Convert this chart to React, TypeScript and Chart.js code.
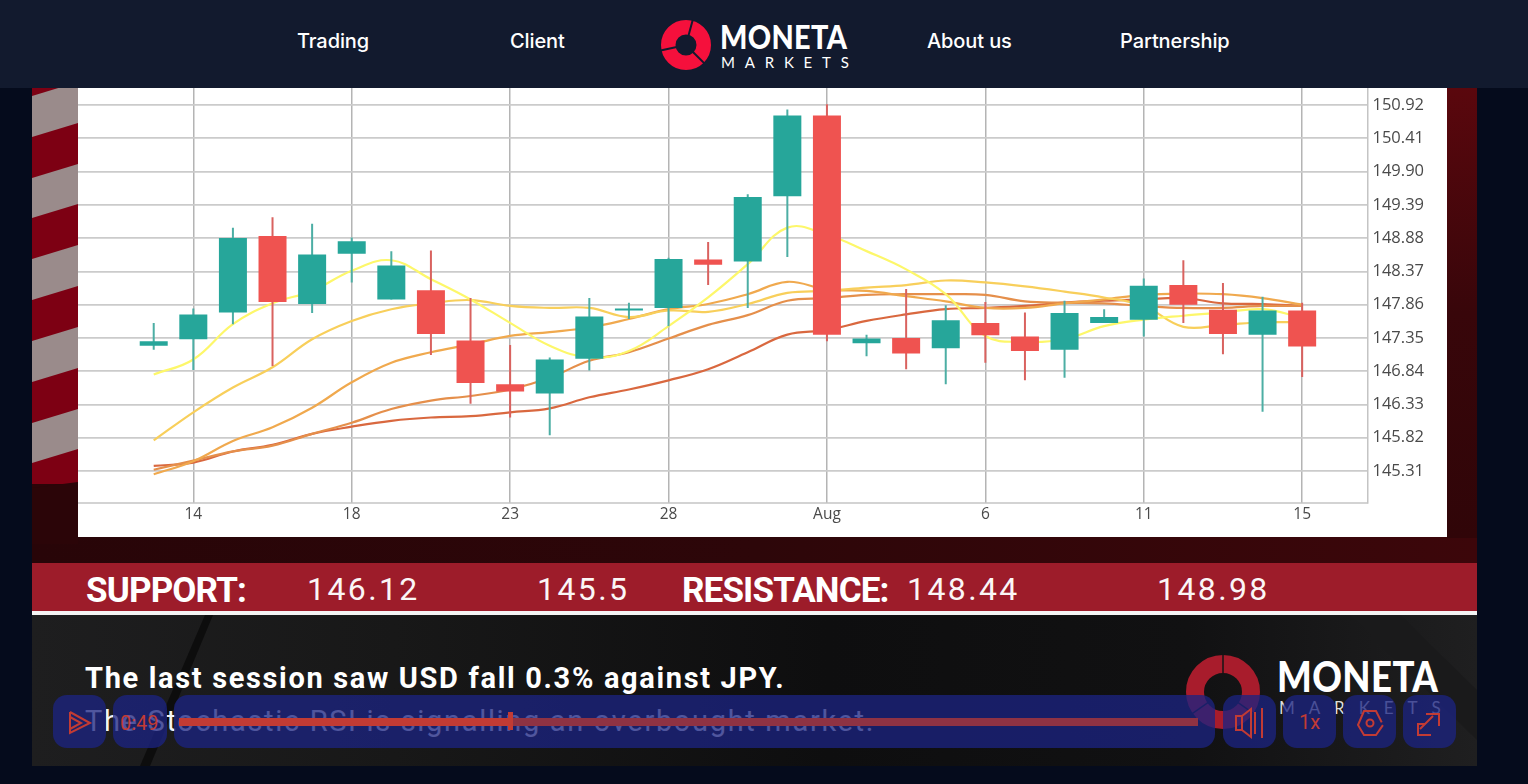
import React, { useEffect, useRef } from "react";
import { Chart, registerables } from "chart.js";

Chart.register(...registerables);

const xTickIndexes = [1, 5, 9, 13, 17, 21, 25, 29];
const xTickLabels = ["14", "18", "23", "28", "Aug", "6", "11", "15"];
const yTickValues = [145.31, 145.82, 146.33, 146.84, 147.35, 147.86, 148.37, 148.88, 149.39, 149.9, 150.41, 150.92];

const bodyTop = [147.3, 147.71, 148.88, 148.91, 148.63, 148.83, 148.46, 148.08, 147.31, 146.64, 147.02, 147.68, 147.8, 148.56, 148.55, 149.51, 150.76, 150.76, 147.34, 147.35, 147.62, 147.58, 147.37, 147.73, 147.67, 148.15, 148.16, 147.78, 147.77, 147.77];
const bodyBottom = [147.23, 147.33, 147.74, 147.9, 147.87, 148.64, 147.94, 147.41, 146.66, 146.53, 146.5, 147.03, 147.77, 147.81, 148.47, 148.52, 149.52, 147.4, 147.27, 147.11, 147.19, 147.39, 147.15, 147.17, 147.58, 147.63, 147.86, 147.41, 147.4, 147.22];
const wickHigh = [147.58, 147.8, 149.04, 149.2, 149.1, 148.89, 148.68, 148.69, 147.96, 147.24, 147.05, 147.96, 147.89, 148.58, 148.82, 149.55, 150.85, 150.93, 147.4, 148.1, 147.85, 147.9, 147.74, 147.92, 147.79, 148.26, 148.54, 148.19, 147.98, 147.89];
const wickLow = [147.17, 146.86, 147.56, 146.92, 147.73, 148.2, 147.94, 147.09, 146.34, 146.13, 145.86, 146.85, 147.64, 147.53, 148.16, 147.81, 148.59, 147.3, 147.07, 146.87, 146.64, 146.97, 146.7, 146.74, 147.58, 147.37, 147.58, 147.1, 146.22, 146.75];
const isRed = [0, 0, 0, 1, 0, 0, 0, 1, 1, 1, 0, 0, 0, 0, 1, 0, 0, 1, 0, 1, 0, 1, 1, 0, 0, 0, 1, 1, 0, 1];

const maYellow = [146.79, 147.02, 147.56, 147.88, 148.07, 148.38, 148.54, 148.25, 147.94, 147.58, 147.23, 147.05, 147.15, 147.53, 147.97, 148.48, 149.04, 148.93, 148.68, 148.4, 148.02, 147.38, 147.29, 147.33, 147.53, 147.63, 147.69, 147.74, 147.79, 147.66];
const maLightOrange = [145.78, 146.21, 146.59, 146.9, 147.33, 147.61, 147.79, 147.88, 147.93, 147.84, 147.81, 147.81, 147.67, 147.77, 147.75, 147.87, 148.04, 148.07, 148.12, 148.16, 148.23, 148.2, 148.14, 148.06, 147.97, 147.84, 147.52, 147.55, 147.59, 147.59];
const maOrange = [145.26, 145.46, 145.77, 145.98, 146.28, 146.67, 146.97, 147.13, 147.25, 147.38, 147.44, 147.51, 147.64, 147.79, 147.87, 148.02, 148.21, 148.09, 148.07, 147.99, 147.91, 147.81, 147.81, 147.88, 147.94, 148.01, 148.03, 148.02, 147.96, 147.86];
const maDeepOrange = [145.33, 145.47, 145.61, 145.7, 145.88, 146.05, 146.26, 146.39, 146.46, 146.56, 146.74, 147.0, 147.13, 147.34, 147.55, 147.7, 147.92, 147.96, 148.01, 148.02, 148.02, 148.01, 147.91, 147.89, 147.88, 147.84, 147.81, 147.81, 147.84, 147.84];
const maRed = [145.39, 145.44, 145.61, 145.71, 145.88, 145.99, 146.08, 146.13, 146.15, 146.21, 146.27, 146.44, 146.56, 146.7, 146.87, 147.13, 147.4, 147.47, 147.61, 147.71, 147.79, 147.81, 147.84, 147.89, 147.92, 147.94, 147.96, 147.88, 147.87, 147.84];

const GREEN = "#26a69a";
const RED = "#ef5350";
const CONTROL = "#c23b34";

const toPoints = (values: number[]) => values.map((y, x) => ({ x, y }));
const toRanges = (a: number[], b: number[]) => a.map((v, x) => ({ x, y: [b[x], v] }));

function lineSet(values: number[], color: string, order: number) {
  return {
    type: "line" as const,
    data: toPoints(values),
    borderColor: color,
    borderWidth: 2.2,
    pointRadius: 0,
    tension: 0.4,
    order,
  };
}

function CandleChart() {
  const ref = useRef<HTMLCanvasElement | null>(null);
  useEffect(() => {
    if (!ref.current) return;
    const colors = isRed.map((r) => (r ? RED : GREEN));
    const wickColors = isRed.map((r) => (r ? "#d9625f" : "#4caea4"));
    const chart = new Chart(ref.current, {
      type: "bar",
      data: {
        datasets: [
          lineSet(maRed, "#d9683f", 7),
          lineSet(maDeepOrange, "#e58f4b", 6),
          lineSet(maOrange, "#f0a94e", 5),
          lineSet(maLightOrange, "#f8cf5b", 4),
          lineSet(maYellow, "#fdf76a", 3),
          {
            type: "bar" as const,
            data: toRanges(wickHigh, wickLow),
            backgroundColor: wickColors,
            borderWidth: 0,
            borderSkipped: false,
            grouped: false,
            maxBarThickness: 2,
            order: 2,
          },
          {
            type: "bar" as const,
            data: toRanges(bodyTop, bodyBottom),
            backgroundColor: colors,
            borderWidth: 0,
            borderSkipped: false,
            grouped: false,
            maxBarThickness: 28,
            order: 1,
          },
        ] as any,
      },
      options: {
        animation: false,
        responsive: false,
        layout: { padding: 0, autoPadding: false },
        plugins: { legend: { display: false }, tooltip: { enabled: false } },
        scales: {
          x: {
            type: "linear",
            offset: false,
            min: -1.912,
            max: 30.65,
            grid: { color: "#b4b4b4", lineWidth: 1.5, drawTicks: false, offset: false },
            border: { display: false },
            ticks: {
              autoSkip: false,
              maxRotation: 0,
              padding: 2,
              color: "#4a4a4a",
              font: { family: "'Open Sans'", size: 15.5 },
              callback: (v: any) => xTickLabels[xTickIndexes.indexOf(Number(v))] ?? "",
            },
            afterBuildTicks: (s: any) => {
              s.ticks = xTickIndexes.map((value) => ({ value }));
            },
            afterFit: (s: any) => {
              s.height = 34;
              s.paddingLeft = 0;
              s.paddingRight = 0;
            },
          },
          y: {
            type: "linear",
            position: "right",
            min: 144.82,
            max: 151.18,
            grid: { color: "#cbcbcb", lineWidth: 1.7, drawTicks: false },
            border: { color: "#c4c4c4", width: 1.5 },
            ticks: {
              padding: 5,
              color: "#4a4a4a",
              font: { family: "'Open Sans'", size: 16.5 },
              callback: (v: any) => Number(v).toFixed(2),
            },
            afterBuildTicks: (s: any) => {
              s.ticks = yTickValues.map((value) => ({ value }));
            },
            afterFit: (s: any) => {
              s.width = 79.5;
              s.paddingTop = 0;
              s.paddingBottom = 0;
            },
          },
        },
      },
      plugins: [
        {
          id: "axisFrame",
          afterDraw(c: any) {
            const { ctx, chartArea } = c;
            ctx.save();
            ctx.strokeStyle = "#c4c4c4";
            ctx.lineWidth = 1.5;
            ctx.beginPath();
            ctx.moveTo(chartArea.left, chartArea.bottom);
            ctx.lineTo(chartArea.right, chartArea.bottom);
            ctx.stroke();
            ctx.restore();
          },
        },
      ],
    } as any);
    return () => chart.destroy();
  }, []);
  return (
    <canvas
      ref={ref}
      width={1369}
      height={449}
      style={{ position: "absolute", left: 78, top: 88, width: 1369, height: 449, display: "block", background: "#fff" }}
    />
  );
}

const abs = (left: number, top: number, width: number, height: number): React.CSSProperties => ({
  position: "absolute",
  left,
  top,
  width,
  height,
});

function txt(left: number, top: number, s: React.CSSProperties): React.CSSProperties {
  return { position: "absolute", left, top, whiteSpace: "nowrap", ...s };
}

function Donut({ cx, cy, outer, inner, color, gapColor, angles, gap }: any) {
  const r = (outer + inner) / 2;
  return (
    <g>
      <circle cx={cx} cy={cy} r={r} fill="none" stroke={color} strokeWidth={outer - inner} />
      {angles.map((a: number) => {
        const t = (a * Math.PI) / 180;
        return (
          <line
            key={a}
            x1={cx + Math.cos(t) * (inner - 1)}
            y1={cy + Math.sin(t) * (inner - 1)}
            x2={cx + Math.cos(t) * (outer + 1)}
            y2={cy + Math.sin(t) * (outer + 1)}
            stroke={gapColor}
            strokeWidth={gap}
          />
        );
      })}
    </g>
  );
}

const stripeOffsets = [55, 137, 218, 300, 382, 463];

function Backdrop() {
  return (
    <svg style={abs(0, 0, 1528, 784)} width={1528} height={784}>
      <defs>
        <linearGradient id="lowerBg" x1="0" x2="1" y1="0" y2="0">
          <stop offset="0" stopColor="#1e1e1f" />
          <stop offset="0.25" stopColor="#181818" />
          <stop offset="0.55" stopColor="#0e0e0f" />
          <stop offset="0.8" stopColor="#111112" />
          <stop offset="1" stopColor="#1f1f20" />
        </linearGradient>
        <linearGradient id="redBg" x1="0" x2="1" y1="0" y2="0">
          <stop offset="0" stopColor="#280508" />
          <stop offset="0.5" stopColor="#2d0609" />
          <stop offset="1" stopColor="#3c060a" />
        </linearGradient>
        <linearGradient id="rightBg" x1="0" x2="0" y1="0" y2="1">
          <stop offset="0" stopColor="#5a070d" />
          <stop offset="0.5" stopColor="#38060a" />
          <stop offset="1" stopColor="#300508" />
        </linearGradient>
      </defs>
      <rect x={32} y={88} width={1445} height={475} fill="url(#redBg)" />
      <rect x={1447} y={88} width={30} height={450} fill="url(#rightBg)" />
      <rect x={32} y={88} width={46} height={396} fill="#9a8b8b" />
      {stripeOffsets.map((y) => (
        <polygon
          key={y}
          points={`32,${y} 78,${y - 14} 78,${y + 27} 32,${y + 41}`}
          fill="#7d0013"
        />
      ))}
      <rect x={32} y={484} width={46} height={60} fill="#2b0508" />
      <polygon points="32,488 78,482 78,490 32,490" fill="#2b0508" />
      <rect x={32} y={563} width={1445} height={48} fill="#9d1c2a" />
      <rect x={32} y={611} width={1445} height={4} fill="#f4f4f4" />
      <rect x={32} y={615} width={1445} height={151} fill="url(#lowerBg)" />
      <polygon points="205,615 213,615 150,766 140,766" fill="#0d0d0d" />
      <polygon points="1400,615 1477,690 1477,740 1350,615" fill="#1a1a1b" />
      <Donut cx={1223} cy={692} outer={37} inner={19} color="#a81c2c" gapColor="#141414" angles={[-90, 145, 35]} gap={1.5} />
    </svg>
  );
}

function ControlButton({ left, width }: { left: number; width: number }) {
  return (
    <div style={{ ...abs(left, 695, width, 53), background: "rgba(28,36,130,0.76)", borderRadius: 14 }} />
  );
}

function Icons() {
  const s = { fill: "none", stroke: CONTROL, strokeWidth: 2 };
  return (
    <svg style={abs(0, 0, 1528, 784)} width={1528} height={784}>
      <polyline {...s} points="70,712 90,723 70,733 70,712" />
      <polyline {...s} points="70,717 81,723 70,729" />
      <path {...s} d="M1236 716 h6 l9 -7 v28 l-9 -7 h-6 z M1242 716 v14 M1255 712 v22 M1262 708 v30" />
      <polygon {...s} points="1358,725 1364,711 1376,711 1383,725 1376,735 1364,735" strokeDasharray="40 3" />
      <circle {...s} cx={1370} cy={723} r={3.5} />
      <path {...s} d="M1426 714 h13 v12 M1433 716 l-13 13 M1431 735 h-13 v-11 h7" />
    </svg>
  );
}

export default function App() {
  useEffect(() => {
    document.body.style.margin = "0";
    document.body.style.background = "#050b1c";
  }, []);
  const nav: React.CSSProperties = { color: "#fff", fontFamily: "Inter", fontSize: 20, fontWeight: 500, letterSpacing: -0.1 };
  const level: React.CSSProperties = { color: "#fbf6f6", fontFamily: "Roboto", fontSize: 32, fontWeight: 400, letterSpacing: 2.4 };
  const heavy: React.CSSProperties = {
    color: "#fff",
    fontFamily: "Roboto",
    fontSize: 35,
    fontWeight: 700,
    letterSpacing: -0.85,
  };
  const squeeze = (k: number): React.CSSProperties => ({ transform: `scaleX(${k})`, transformOrigin: "left center" });
  return (
    <div style={{ position: "fixed", left: 0, top: 0, width: 1528, height: 784, overflow: "hidden", background: "#050b1c" }}>
      <Backdrop />
      <CandleChart />
      <div style={txt(86, 570, heavy)}>SUPPORT:</div>
      <div style={txt(307, 570, level)}>146.12</div>
      <div style={txt(537, 570, level)}>145.5</div>
      <div style={txt(682, 570, heavy)}>RESISTANCE:</div>
      <div style={txt(907, 570, level)}>148.44</div>
      <div style={txt(1157, 570, level)}>148.98</div>
      <div style={txt(85, 661, { color: "#fff", fontFamily: "Roboto", fontSize: 29, fontWeight: 700, letterSpacing: 1.66 })}>
        The last session saw USD fall 0.3% against JPY.
      </div>
      <div style={txt(85, 704, { color: "#f4f4f4", fontFamily: "Roboto", fontSize: 29, fontWeight: 400, letterSpacing: 1.67 })}>
        The Stochastic RSI is signalling an overbought market.
      </div>
      <div style={txt(1277, 651, { color: "#fff", fontFamily: "Lato", fontSize: 42, fontWeight: 900, letterSpacing: 0.5, ...squeeze(0.87) })}>MONETA</div>
      <div style={txt(1279, 697, { color: "#ddd", fontFamily: "Lato", fontSize: 17, fontWeight: 400, letterSpacing: 13.9 })}>MARKETS</div>

      <ControlButton left={53} width={53} />
      <ControlButton left={113} width={54} />
      <ControlButton left={174} width={1041} />
      <ControlButton left={1223} width={53} />
      <ControlButton left={1283} width={53} />
      <ControlButton left={1343} width={53} />
      <ControlButton left={1403} width={53} />
      <div style={{ ...abs(179, 718, 1019, 8), background: "#8f3243" }} />
      <div style={{ ...abs(179, 718, 332, 8), background: CONTROL }} />
      <div style={{ ...abs(508, 712, 5, 18), background: CONTROL }} />
      <div style={txt(120, 711, { color: CONTROL, fontFamily: "Roboto", fontSize: 20 })}>0:49</div>
      <div style={txt(1299, 710, { color: CONTROL, fontFamily: "Roboto", fontSize: 20 })}>1x</div>
      <Icons />

      <div style={{ ...abs(0, 0, 1528, 88), background: "#121a2e" }} />
      <div style={txt(297, 29, nav)}>Trading</div>
      <div style={txt(510, 29, nav)}>Client</div>
      <div style={txt(927, 29, nav)}>About us</div>
      <div style={txt(1120, 29, nav)}>Partnership</div>
      <svg style={abs(650, 10, 80, 70)} width={80} height={70}>
        <Donut cx={36} cy={35} outer={25} inner={10.5} color="#f5103c" gapColor="#121a2e" angles={[-75, 168, 45]} gap={2} />
      </svg>
      <div style={txt(720, 17, { color: "#fff", fontFamily: "Lato", fontSize: 32, fontWeight: 900, letterSpacing: 0.4, ...squeeze(0.9) })}>MONETA</div>
      <div style={txt(721, 53, { color: "#fff", fontFamily: "Lato", fontSize: 15, fontWeight: 400, letterSpacing: 9.8 })}>MARKETS</div>
    </div>
  );
}
